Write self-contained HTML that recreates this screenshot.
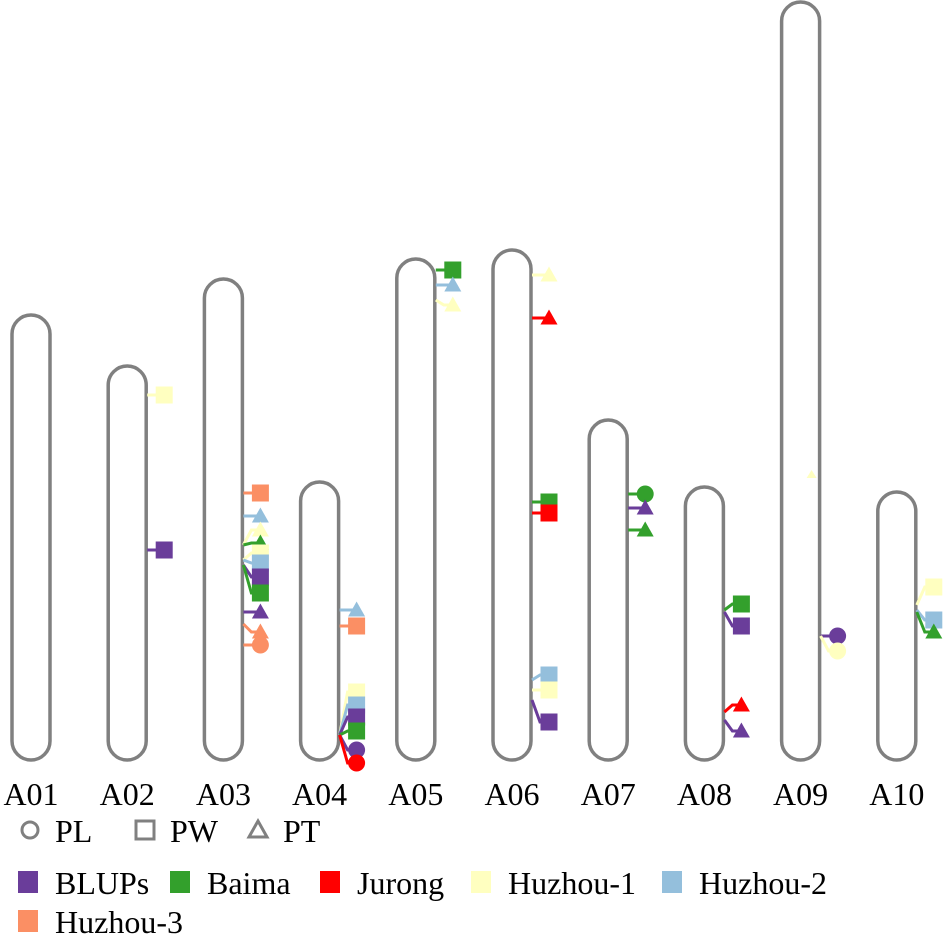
<!DOCTYPE html>
<html><head><meta charset="utf-8"><style>
html,body{margin:0;padding:0;background:#fff;}
svg{display:block;}
svg text{font-family:"Liberation Serif",serif;}
</style></head><body>
<svg id="chart" width="945" height="943" viewBox="0 0 945 943" xmlns="http://www.w3.org/2000/svg">
<g id="chroms"></g>
<g id="marks"></g>
<g id="labels"></g>
<g id="legend"></g>
</svg>
<script>
const chromNames = ["A01","A02","A03","A04","A05","A06","A07","A08","A09","A10"];
const chromTops = [313,364,277,480,257,248,418,485,0,490];
// markers: chromosome index, anchor y, marker y, trait, environment
const markChrom = [1,1, 2,2,2,2,2,2,2,2,2,2,2, 3,3,3,3,3,3,3,3, 4,4,4, 5,5,5,5,5,5,5, 6,6,6, 7,7,7,7, 8,8,8, 9,9,9];
const markAnchor = [395,550, 493,516,545,545,560,560,565,565,612,624,645, 610,626,735,735,735,735,735,735, 270,285,300, 275,318,502,513,680,690,700, 494,508,530, 610,612,712,720, 475,636,636, 605,610,612];
const markPos = [395,550, 493,516,530,543,553,563,577,593,612,632,645, 610,626,692,705,717,731,750,763, 270,285,305, 275,318,502,513,675,690,722, 494,508,530, 604,626,705,731, 475,636,651, 587,620,632];
const markTrait = ["PW","PW", "PW","PT","PT","PT","PW","PW","PW","PW","PT","PT","PL", "PT","PW","PW","PW","PW","PW","PL","PL", "PW","PT","PT", "PT","PT","PW","PW","PW","PW","PW", "PL","PT","PT", "PW","PW","PT","PT", "PT","PL","PL", "PW","PW","PT"];
const markEnv = ["Huzhou-1","BLUPs", "Huzhou-3","Huzhou-2","Huzhou-1","Baima","Huzhou-1","Huzhou-2","BLUPs","Baima","BLUPs","Huzhou-3","Huzhou-3", "Huzhou-2","Huzhou-3","Huzhou-1","Huzhou-2","BLUPs","Baima","BLUPs","Jurong", "Baima","Huzhou-2","Huzhou-1", "Huzhou-1","Jurong","Baima","Jurong","Huzhou-2","Huzhou-1","BLUPs", "Baima","BLUPs","Baima", "Baima","BLUPs","Jurong","BLUPs", "Huzhou-1","BLUPs","Huzhou-1", "Huzhou-1","Huzhou-2","Baima"];
const envNames = ["BLUPs","Baima","Jurong","Huzhou-1","Huzhou-2","Huzhou-3"];
const envColors = ["#6a3d9a","#33a02c","#ff0000","#ffffc0","#94bfdc","#fb8f64"];
const traitNames = ["PL","PW","PT"];

const NS="http://www.w3.org/2000/svg";
function mk(tag,attrs,parent){const e=document.createElementNS(NS,tag);for(const k in attrs)e.setAttribute(k,attrs[k]);parent.appendChild(e);return e;}
function txt(parent,x,y,s,anchor){const t=mk('text',{x:x,y:y,'font-size':32,'font-family':'Liberation Serif, serif','text-anchor':anchor||'start'},parent);t.textContent=s;return t;}
const xOf = i => 12 + i*96.2;
const W=38, BOTTOM=760;
const gC=document.getElementById('chroms'), gM=document.getElementById('marks'), gL=document.getElementById('labels'), gLeg=document.getElementById('legend');
function shape(trait,cx,cy,fill,stroke,parent,s){
  let e;
  if(trait==="PL"){e=mk('circle',{cx:cx,cy:cy,r:s/2,fill:fill,stroke:stroke,'stroke-width':stroke==='none'?0:3},parent);}
  else if(trait==="PW"){e=mk('rect',{x:cx-s/2,y:cy-s/2,width:s,height:s,fill:fill,stroke:stroke,'stroke-width':stroke==='none'?0:3},parent);}
  else {e=mk('polygon',{points:`${cx},${cy-s/2} ${cx+s/2},${cy+s/2-2} ${cx-s/2},${cy+s/2-2}`,fill:fill,stroke:stroke,'stroke-width':stroke==='none'?0:3},parent);}
  return e;
}
chromNames.forEach((n,i)=>{
  const x=xOf(i), t=chromTops[i]+2;
  const r=mk('rect',{x:x,y:t,width:W,height:BOTTOM-t,rx:19,ry:19,fill:'#fff',stroke:'#808080','stroke-width':3.5},gC);
  
  
  const tx=txt(gL,x+W/2,805,n,'middle');
  
  
});
markChrom.forEach((c,k)=>{
  const col=envColors[envNames.indexOf(markEnv[k])];
  const ex=xOf(c)+W+1, cx=ex+17;
  const g=mk('g',{},gM);
  
  
  const small = (c===8 && k===markChrom.indexOf(8));
  if(small){ shape(markTrait[k], xOf(c)+30, markPos[k], col, 'none', g, 10); return; }
  mk('path',{d:`M${ex},${markAnchor[k]} L${ex+8},${markPos[k]} L${cx},${markPos[k]}`,stroke:col,'stroke-width':3,fill:'none'},g);
  shape(markTrait[k], cx, markPos[k], col, 'none', g, 17);
});
// legend
const traitX=[30,145,258];
traitNames.forEach((t,i)=>{
  const g=mk('g',{},gLeg);
  
  
  shape(t,traitX[i],830,'none','#808080',g,t==="PL"?16:18);
  txt(g,traitX[i]+25,842,t);
});
const envLX=[28,180,330,481,672,28], envLY=[882,882,882,882,882,921];
envNames.forEach((e,i)=>{
  const g=mk('g',{},gLeg);
  
  
  mk('rect',{x:envLX[i]-10,y:envLY[i]-11,width:20,height:22,fill:envColors[i]},g);
  txt(g,envLX[i]+27,envLY[i]+12,e);
});
</script>
</body></html>
